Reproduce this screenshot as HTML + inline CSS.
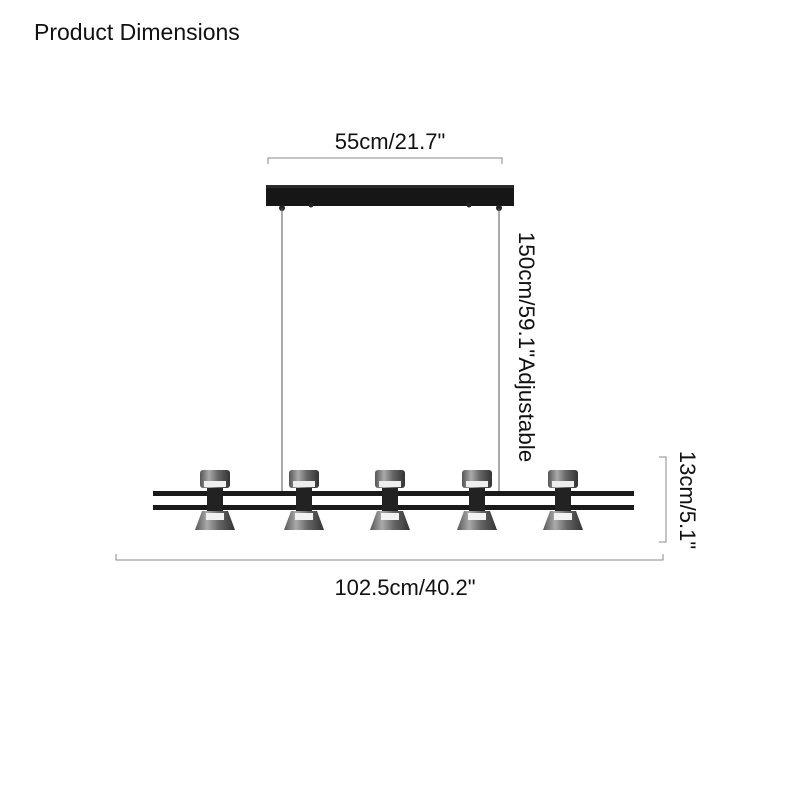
<!DOCTYPE html>
<html><head><style>body{margin:0;background:#fff}svg{display:block}text{font-family:"Liberation Sans",sans-serif;fill:#111}</style></head><body>
<svg width="800" height="800" viewBox="0 0 800 800" xmlns="http://www.w3.org/2000/svg">
<defs>
<linearGradient id="chrome" x1="0" x2="1"><stop offset="0" stop-color="#555"/><stop offset=".3" stop-color="#aaa"/><stop offset=".6" stop-color="#666"/><stop offset="1" stop-color="#333"/></linearGradient>
</defs>
<text x="34" y="40" font-size="23">Product Dimensions</text>
<path d="M268 164V158H502V164" fill="none" stroke="#888" stroke-width="1"/>
<text x="390" y="149" font-size="22" text-anchor="middle">55cm/21.7"</text>
<rect x="266" y="185" width="248" height="21" fill="#161616"/>
<rect x="266" y="185" width="248" height="3" fill="#2a2a2a"/>
<circle cx="282" cy="208" r="3" fill="#222"/><circle cx="311" cy="205" r="2.5" fill="#222"/>
<circle cx="469" cy="205" r="2.5" fill="#222"/><circle cx="499" cy="208" r="3" fill="#222"/>
<line x1="282" y1="208" x2="282" y2="492" stroke="#555" stroke-width="1"/>
<line x1="499" y1="208" x2="499" y2="492" stroke="#555" stroke-width="1"/>
<text transform="translate(519,347) rotate(90)" font-size="22.5" text-anchor="middle">150cm/59.1"Adjustable</text>
<rect x="153" y="491" width="481" height="5" fill="#1a1a1a"/>
<rect x="153" y="505" width="481" height="5" fill="#1a1a1a"/>
<g>
<g transform="translate(215,0)">
<rect x="-15" y="470" width="30" height="18" rx="3" fill="url(#chrome)"/><rect x="-11" y="481" width="22" height="6" fill="#eee"/>
<rect x="-8" y="488" width="16" height="24" fill="#222"/>
<path d="M-13 511H13L20 530H-20Z" fill="url(#chrome)"/><rect x="-9" y="513" width="18" height="7" fill="#f2f2f2"/>
</g>
<g transform="translate(304,0)">
<rect x="-15" y="470" width="30" height="18" rx="3" fill="url(#chrome)"/><rect x="-11" y="481" width="22" height="6" fill="#eee"/>
<rect x="-8" y="488" width="16" height="24" fill="#222"/>
<path d="M-13 511H13L20 530H-20Z" fill="url(#chrome)"/><rect x="-9" y="513" width="18" height="7" fill="#f2f2f2"/>
</g>
<g transform="translate(390,0)">
<rect x="-15" y="470" width="30" height="18" rx="3" fill="url(#chrome)"/><rect x="-11" y="481" width="22" height="6" fill="#eee"/>
<rect x="-8" y="488" width="16" height="24" fill="#222"/>
<path d="M-13 511H13L20 530H-20Z" fill="url(#chrome)"/><rect x="-9" y="513" width="18" height="7" fill="#f2f2f2"/>
</g>
<g transform="translate(477,0)">
<rect x="-15" y="470" width="30" height="18" rx="3" fill="url(#chrome)"/><rect x="-11" y="481" width="22" height="6" fill="#eee"/>
<rect x="-8" y="488" width="16" height="24" fill="#222"/>
<path d="M-13 511H13L20 530H-20Z" fill="url(#chrome)"/><rect x="-9" y="513" width="18" height="7" fill="#f2f2f2"/>
</g>
<g transform="translate(563,0)">
<rect x="-15" y="470" width="30" height="18" rx="3" fill="url(#chrome)"/><rect x="-11" y="481" width="22" height="6" fill="#eee"/>
<rect x="-8" y="488" width="16" height="24" fill="#222"/>
<path d="M-13 511H13L20 530H-20Z" fill="url(#chrome)"/><rect x="-9" y="513" width="18" height="7" fill="#f2f2f2"/>
</g>
</g>
<path d="M659 457H666V542H659" fill="none" stroke="#888" stroke-width="1"/>
<text transform="translate(680,500) rotate(90)" font-size="22" text-anchor="middle">13cm/5.1"</text>
<path d="M116 554V560H663V554" fill="none" stroke="#888" stroke-width="1"/>
<text x="405" y="595" font-size="22" text-anchor="middle">102.5cm/40.2"</text>
</svg>
</body></html>
